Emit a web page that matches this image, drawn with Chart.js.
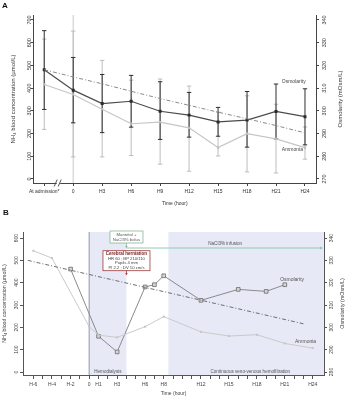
<!DOCTYPE html>
<html><head><meta charset="utf-8">
<script src="https://cdn.jsdelivr.net/npm/chart.js@4.4.0/dist/chart.umd.min.js"></script>
<style>
html,body{margin:0;padding:0;background:#fff;}
#wrap{position:relative;width:347px;height:400px;overflow:hidden;}
canvas{position:absolute;left:0;}
</style></head><body>
<div id="wrap">
<canvas id="ca" width="347" height="208" style="top:0;width:347px;height:208px"></canvas>
<canvas id="cb" width="347" height="192" style="top:208px;width:347px;height:192px"></canvas>
</div>
<script>
// ---------- Panel A data ----------
const timesA = ["At admission*","0","H3","H6","H9","H12","H15","H18","H21","H24"];
const osmA   = [318.1,309.1,303.2,304.2,299.8,298.1,295.1,295.9,299.7,297.4];
const osmAHi = [335.3,323.5,316.0,315.6,312.8,308.1,301.5,308.5,311.8,309.7];
const osmALo = [300.6,294.7,290.4,292.8,287.4,288.4,288.8,284.0,287.6,285.0];
const nh4A   = [416,372,307,243,250,225,138,199,176,138];
const nh4AHi = [616,651,522,435,440,409,294,366,329,229];
const nh4ALo = [218,97,97,103,65,34,101,31,26,87];
const trendA = [481,449,419,386,354,324,294,265,235,203];
const nh4TicksA = [0,100,200,300,400,500,600,700];
const osmTicksA = [270,280,290,300,310,320,330,340];

// ---------- Panel B data ----------
const osmBHours = [-2,1,3,6,7,8,12,16,19,21];
const osmB      = [326.1,296.0,289.0,318.1,319.1,323.1,312.1,317.0,316.1,319.1];
const nh4BHours = [-6,-4,0,1,3,6,8,12,15,18,21,24];
const nh4B      = [543,510,203,165,155,203,248,180,161,167,128,107];
const trendBHours = [-6.6,23];
const trendB      = [500,216];
const hourTicksB  = [-6,-5,-4,-3,-2,-1,0,1,2,3,4,5,6,7,8,9,10,11,12,13,14,15,16,17,18,19,20,21,22,23,24];
const labeledHoursB = [-6,-4,-2,0,1,3,6,8,12,15,18,21,24];
const hourLabelsB   = ["H-6","H-4","H-2","0","H1","H3","H6","H8","H12","H15","H18","H21","H24"];
const nh4TicksB = [0,100,200,300,400,500,600];
const osmTicksB = [280,290,300,310,320,330,340];
const phaseNames = ["Hemodialysis","Continuous veno-venous hemofiltration"];
const phaseStart = [0,8.5];
const phaseEnd   = [4,25.2];
const phaseLabelHour = [2,17.3];
const bolusHour = 4;
const infusionStart = 4, infusionEnd = 25;
const herniationLines = ["Cerebral herniation","HR 60 ; BP 210/110","Pupils 4 mm","PI 2.2 ; DV 10 cm/s"];

const FONT = "'Liberation Sans', Arial, sans-serif";

function yAxis(pos, min, max, ticksArr, width, color) {
  return {
    type:'linear', position:pos, min:min, max:max,
    afterBuildTicks: s => { s.ticks = ticksArr.map(v => ({value:v})); },
    afterFit: s => { s.width = width; },
    ticks:{display:false},
    grid:{drawOnChartArea:false, drawTicks:true, tickLength:3, color:color, lineWidth:1},
    border:{display:true, color:color, width:1}
  };
}

function yText(chart, id, title, tickDx, titleDx, tickSize, titleSize, color) {
  const s = chart.scales[id], ctx = chart.ctx;
  const base = s.position === 'left' ? chart.chartArea.left : chart.chartArea.right;
  ctx.save();
  ctx.fillStyle = color;
  ctx.textAlign = 'center'; ctx.textBaseline = 'middle';
  ctx.font = tickSize + 'px ' + FONT;
  s.ticks.forEach(t => {
    const y = s.getPixelForValue(t.value);
    ctx.save(); ctx.translate(base + tickDx, y); ctx.rotate(-Math.PI/2);
    ctx.fillText(String(t.value), 0, 0); ctx.restore();
  });
  ctx.font = titleSize + 'px ' + FONT;
  ctx.translate(base + titleDx, (s.top + s.bottom)/2); ctx.rotate(-Math.PI/2);
  ctx.fillText(title, 0, 0);
  ctx.restore();
}

// ---------- Chart A ----------
const plugA = {
  id:'plugA',
  beforeDatasetsDraw(chart){
    const ctx = chart.ctx, x = chart.scales.x, ca = chart.chartArea;
    ctx.save();
    const x0 = x.getPixelForValue(timesA.indexOf("0"));
    ctx.strokeStyle = '#c9c9c9'; ctx.lineWidth = 1;
    ctx.beginPath(); ctx.moveTo(x0, ca.top); ctx.lineTo(x0, ca.bottom); ctx.stroke();
    const bars = (lo, hi, sc, color, lw) => {
      ctx.strokeStyle = color; ctx.lineWidth = lw;
      lo.forEach((l, i) => {
        const px = x.getPixelForValue(i), a = sc.getPixelForValue(l), b = sc.getPixelForValue(hi[i]);
        ctx.beginPath();
        ctx.moveTo(px, a); ctx.lineTo(px, b);
        ctx.moveTo(px-2.2, a); ctx.lineTo(px+2.2, a);
        ctx.moveTo(px-2.2, b); ctx.lineTo(px+2.2, b);
        ctx.stroke();
      });
    };
    bars(nh4ALo, nh4AHi, chart.scales.y, '#bdbdbd', 1);
    bars(osmALo, osmAHi, chart.scales.y2, '#2e2e2e', 1);
    ctx.restore();
  },
  afterDraw(chart){
    const ctx = chart.ctx, x = chart.scales.x, y = chart.scales.y, ca = chart.chartArea;
    yText(chart, 'y', 'NH\u2084 blood concentration (\u00b5mol/L)', -4.5, -20, 5.5, 6, '#333');
    yText(chart, 'y2', 'Osmolarity (mOsm/L)', 8, 24, 5.5, 6, '#333');
    ctx.save();
    // axis break
    const xb = x.getPixelForValue(0.5), yb = ca.bottom;
    ctx.fillStyle = '#fff'; ctx.fillRect(xb-2, yb-1.5, 3.5, 3);
    ctx.strokeStyle = '#444'; ctx.lineWidth = 0.9;
    ctx.beginPath();
    ctx.moveTo(xb-4.5, yb+3.5); ctx.lineTo(xb-1.5, yb-3.5);
    ctx.moveTo(xb-0.5, yb+3.5); ctx.lineTo(xb+2.5, yb-3.5);
    ctx.stroke();
    // series labels
    ctx.fillStyle = '#444'; ctx.font = '5px ' + FONT; ctx.textAlign = 'left'; ctx.textBaseline = 'middle';
    ctx.fillText('Osmolarity', x.getPixelForValue(8.2), y.getPixelForValue(428));
    ctx.fillText('Ammonia', x.getPixelForValue(8.2), y.getPixelForValue(127));
    // panel letter
    ctx.fillStyle = '#111'; ctx.font = 'bold 8px ' + FONT; ctx.textAlign='left'; ctx.textBaseline='middle';
    ctx.fillText('A', 2, 6);
    ctx.restore();
  }
};

new Chart(document.getElementById('ca'), {
  type:'line',
  data:{datasets:[
    {label:'trend', data: trendA.map((v,i)=>({x:i,y:v})), yAxisID:'y', borderColor:'#8a8a8a', borderWidth:1, borderDash:[4,2,1,2], pointRadius:0, fill:false},
    {label:'Ammonia', data: nh4A.map((v,i)=>({x:i,y:v})), yAxisID:'y', borderColor:'#c6c6c6', borderWidth:1.2, pointStyle:'rect', pointRadius:1.6, pointBackgroundColor:'#bdbdbd', pointBorderColor:'#bdbdbd', pointBorderWidth:0, fill:false},
    {label:'Osmolarity', data: osmA.map((v,i)=>({x:i,y:v})), yAxisID:'y2', borderColor:'#4a4a4a', borderWidth:1.2, pointStyle:'rect', pointRadius:2.1, pointBackgroundColor:'#2a2a2a', pointBorderColor:'#2a2a2a', pointBorderWidth:0, fill:false}
  ]},
  options:{
    responsive:false, animation:false, devicePixelRatio:1,
    layout:{padding:{top:15,left:0,right:0,bottom:0}},
    plugins:{legend:{display:false}, tooltip:{enabled:false}},
    scales:{
      x:{type:'linear', position:'bottom', min:-0.37, max:9.38,
        afterBuildTicks: s => { s.ticks = timesA.map((_,i)=>({value:i})); },
        afterFit: s => { s.height = 25; },
        ticks:{autoSkip:false, maxRotation:0, minRotation:0, padding:3, color:'#333', font:{family:FONT,size:5}, callback:(v)=>timesA[v]},
        grid:{drawOnChartArea:false, tickLength:3, color:'#444'},
        border:{color:'#444', width:1},
        title:{display:true, text:'Time (hour)', color:'#333', font:{family:FONT,size:5}, padding:{top:0,bottom:1.7}}
      },
      y: yAxis('left', -18, 722, nh4TicksA, 33.5, '#444'),
      y2: yAxis('right', 268.2, 342.2, osmTicksA, 31, '#444')
    }
  },
  plugins:[plugA]
});

// ---------- Chart B ----------
const plugB = {
  id:'plugB',
  beforeDatasetsDraw(chart){
    const ctx = chart.ctx, x = chart.scales.x, y = chart.scales.y, ca = chart.chartArea;
    ctx.save();
    ctx.fillStyle = '#e7eaf6';
    phaseStart.forEach((s, i) => {
      const a = x.getPixelForValue(s), b = Math.min(x.getPixelForValue(phaseEnd[i]), ca.right);
      ctx.fillRect(a, ca.top, b - a, ca.bottom - ca.top);
    });
    const x0 = x.getPixelForValue(0);
    ctx.strokeStyle = '#a9adc2'; ctx.lineWidth = 1.3;
    ctx.beginPath(); ctx.moveTo(x0, ca.top); ctx.lineTo(x0, ca.bottom); ctx.stroke();
    ctx.fillStyle = '#555'; ctx.font = '4.6px ' + FONT; ctx.textAlign = 'center'; ctx.textBaseline = 'middle';
    phaseNames.forEach((n, i) => ctx.fillText(n, x.getPixelForValue(phaseLabelHour[i]), ca.bottom - 3));
    ctx.restore();
  },
  afterDatasetsDraw(chart){
    const ctx = chart.ctx, x = chart.scales.x, y = chart.scales.y, ca = chart.chartArea;
    ctx.save();
    const xe = x.getPixelForValue(bolusHour);
    // infusion line
    const yi = ca.top + 16;
    const xs = x.getPixelForValue(infusionStart), xf = x.getPixelForValue(infusionEnd);
    ctx.strokeStyle = '#8ecab2'; ctx.lineWidth = 1;
    ctx.beginPath(); ctx.moveTo(xs, yi); ctx.lineTo(xf, yi); ctx.stroke();
    ctx.fillStyle = '#8ecab2';
    ctx.beginPath(); ctx.moveTo(xf+1, yi); ctx.lineTo(xf-2, yi-1.5); ctx.lineTo(xf-2, yi+1.5); ctx.closePath(); ctx.fill();
    ctx.fillStyle = '#555'; ctx.font = '4.6px ' + FONT; ctx.textAlign = 'center'; ctx.textBaseline = 'middle';
    ctx.fillText('NaCl3% infusion', x.getPixelForValue(14.6), yi - 4.5);
    // bolus box
    const bw = 33, bt = ca.top - 1, bh = 12;
    ctx.fillStyle = '#fff'; ctx.fillRect(xe - bw/2, bt, bw, bh);
    ctx.strokeStyle = '#86b894'; ctx.lineWidth = 0.8; ctx.strokeRect(xe - bw/2, bt, bw, bh);
    ctx.fillStyle = '#555'; ctx.font = '4.3px ' + FONT;
    ctx.fillText('Mannitol +', xe, bt + 3.6);
    ctx.fillText('NaCl3% bolus', xe, bt + 8.4);
    ctx.strokeStyle = '#86b894'; ctx.beginPath(); ctx.moveTo(xe, bt + bh); ctx.lineTo(xe, yi - 0.5); ctx.stroke();
    ctx.fillStyle = '#86b894'; ctx.beginPath(); ctx.moveTo(xe, yi); ctx.lineTo(xe-1.3, yi-2); ctx.lineTo(xe+1.3, yi-2); ctx.closePath(); ctx.fill();
    // herniation box
    const hw = 47, ht = ca.top + 18.7, hh = 20;
    ctx.fillStyle = '#fff'; ctx.fillRect(xe - hw/2, ht, hw, hh);
    ctx.strokeStyle = '#9e3a3a'; ctx.lineWidth = 0.8; ctx.strokeRect(xe - hw/2, ht, hw, hh);
    herniationLines.forEach((t, i) => {
      ctx.fillStyle = i === 0 ? '#7a2020' : '#444';
      ctx.font = (i === 0 ? 'bold 4.5px ' : '4.2px ') + FONT;
      ctx.fillText(t, xe, ht + 3.2 + i * 4.6);
    });
    ctx.strokeStyle = '#a33'; ctx.beginPath(); ctx.moveTo(xe, ht + hh); ctx.lineTo(xe, ht + hh + 3.5); ctx.stroke();
    ctx.fillStyle = '#a33'; ctx.beginPath(); ctx.moveTo(xe, ht+hh+4.5); ctx.lineTo(xe-1.3, ht+hh+2.5); ctx.lineTo(xe+1.3, ht+hh+2.5); ctx.closePath(); ctx.fill();
    ctx.restore();
  },
  afterDraw(chart){
    const ctx = chart.ctx, x = chart.scales.x, y = chart.scales.y;
    yText(chart, 'y', 'NH\u2084 blood concentration (\u00b5mol/L)', -6.3, -18.5, 5, 5.3, '#444');
    yText(chart, 'y2', 'Osmolarity (mOsm/L)', 7.5, 18.5, 5, 5.3, '#444');
    ctx.save();
    ctx.fillStyle = '#555'; ctx.font = '5px ' + FONT; ctx.textAlign = 'left'; ctx.textBaseline = 'middle';
    ctx.fillText('Osmolarity', x.getPixelForValue(20.5), y.getPixelForValue(412));
    ctx.fillText('Ammonia', x.getPixelForValue(22.1), y.getPixelForValue(134));
    ctx.fillStyle = '#111'; ctx.font = 'bold 8px ' + FONT;
    ctx.fillText('B', 3, 5);
    ctx.restore();
  }
};

new Chart(document.getElementById('cb'), {
  type:'line',
  data:{datasets:[
    {label:'trend', data: trendB.map((v,i)=>({x:trendBHours[i],y:v})), yAxisID:'y', borderColor:'#6e6e6e', borderWidth:1, borderDash:[4,2,1,2], pointRadius:0, fill:false},
    {label:'Ammonia', data: nh4B.map((v,i)=>({x:nh4BHours[i],y:v})), yAxisID:'y', borderColor:'#cacaca', borderWidth:1, pointStyle:'rect', pointRadius:1.4, pointBackgroundColor:'#c4c4c4', pointBorderColor:'#c4c4c4', pointBorderWidth:0, fill:false},
    {label:'Osmolarity', data: osmB.map((v,i)=>({x:osmBHours[i],y:v})), yAxisID:'y2', borderColor:'#8a8a8a', borderWidth:1, pointStyle:'rect', pointRadius:2.6, pointBackgroundColor:'#d6d6d6', pointBorderColor:'#6a6a6a', pointBorderWidth:0.8, fill:false}
  ]},
  options:{
    responsive:false, animation:false, devicePixelRatio:1,
    layout:{padding:{top:24,left:0,right:0,bottom:0}},
    plugins:{legend:{display:false}, tooltip:{enabled:false}},
    scales:{
      x:{type:'linear', position:'bottom', min:-7.11, max:25.21,
        afterBuildTicks: s => { s.ticks = hourTicksB.map(v=>({value:v})); },
        afterFit: s => { s.height = 25; },
        ticks:{autoSkip:false, maxRotation:0, minRotation:0, padding:3, color:'#444', font:{family:FONT,size:5},
          callback:(v)=>{ const k = labeledHoursB.indexOf(v); return k >= 0 ? hourLabelsB[k] : ''; }},
        grid:{drawOnChartArea:false, tickLength:4, color:'#555'},
        border:{color:'#555', width:1},
        title:{display:true, text:'Time (hour)', color:'#444', font:{family:FONT,size:5}, padding:{top:0,bottom:3}}
      },
      y: yAxis('left', -13.4, 627, nh4TicksB, 23, '#555'),
      y2: yAxis('right', 278.66, 342.7, osmTicksB, 23, '#555')
    }
  },
  plugins:[plugB]
});
</script>
</body></html>
